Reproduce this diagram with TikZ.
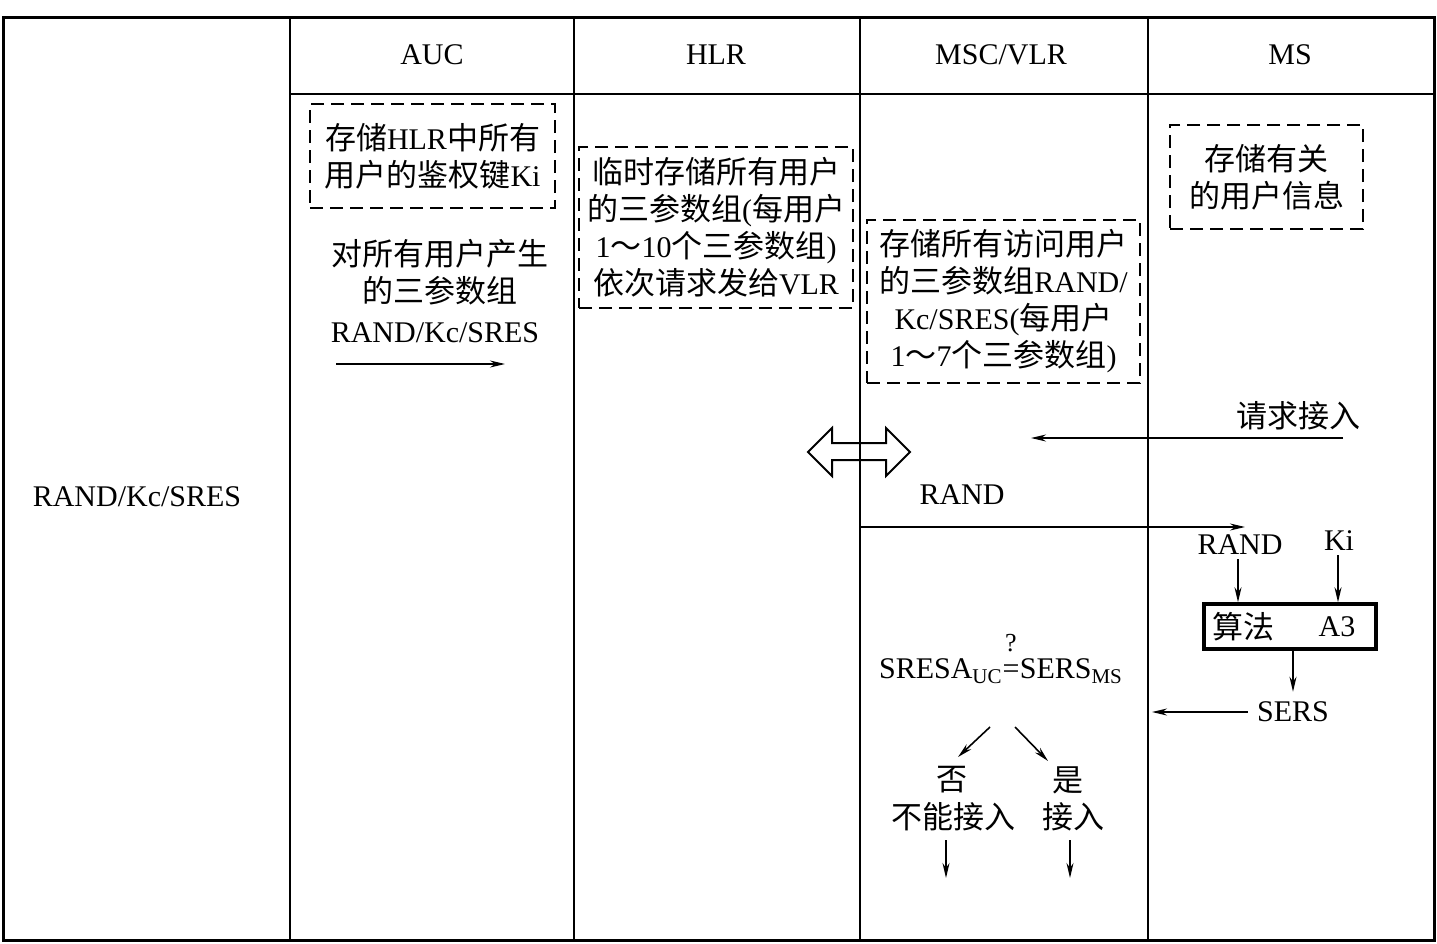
\documentclass[tikz,border=0pt]{standalone}
\usepackage{fontspec}
\setmainfont{Liberation Serif}
\newfontfamily\cj{Noto Sans CJK SC}
\usetikzlibrary{arrows.meta}
\newcommand{\C}[1]{{\cj\fontsize{31}{37}\selectfont #1}}
\begin{document}
\begin{tikzpicture}[x=1pt,y=-1pt,
  every node/.style={font=\fontsize{30}{37}\selectfont, inner sep=0pt},
  frame/.style={line width=3pt},
  col/.style={line width=2.6pt},
  dbox/.style={draw, dash pattern=on 13pt off 7pt, line width=2pt, align=center},
  arr/.style={line width=1.6pt, -{Stealth[length=15pt,width=7pt]}},
  algbox/.style={draw, line width=3.5pt, minimum width=172pt, minimum height=45pt}]
\useasboundingbox (0,0) rectangle (1437,943);
% frame and columns
\draw[frame] (3,17) rectangle (1434,940);
\draw[col] (290,17) -- (290,940);
\draw[col] (574,17) -- (574,940);
\draw[col] (860,17) -- (860,940);
\draw[col] (1148,17) -- (1148,940);
\draw[col] (290,94) -- (1434,94);
% headers
\node (auc) at (432,55) {AUC};
\node (hlr) at (716,55) {HLR};
\node (vlr) at (1001,55) {MSC/VLR};
\node (ms) at (1290,55) {MS};
\node (left) at (137,497) {RAND/Kc/SRES};
% AUC column
\node[dbox, minimum width=245pt, minimum height=104pt] (b1) at (432.5,156)
  {\C{存储}HLR\C{中所有}\\\C{用户的鉴权键}Ki};
\node[align=center] (t1) at (440,272) {\C{对所有用户产生}\\\C{的三参数组}};
\node (t2) at (435,333) {RAND/Kc/SRES};
\coordinate (a1s) at (336,364);
\coordinate (a1e) at (505,364);
\draw[arr] (a1s) -- (a1e);
% HLR column
\node[dbox, minimum width=274pt, minimum height=161pt] (b2) at (716,227.5)
  {\C{临时存储所有用户}\\\C{的三参数组}(\C{每用户}\\1\C{～}10\C{个三参数组})\\\C{依次请求发给}VLR};
% MSC/VLR column
\node[dbox, minimum width=273pt, minimum height=163pt] (b3) at (1003.5,301.5)
  {\C{存储所有访问用户}\\\C{的三参数组}RAND/\\Kc/SRES(\C{每用户}\\1\C{～}7\C{个三参数组})};
% MS column
\node[dbox, minimum width=193pt, minimum height=104pt] (b4) at (1266.5,177)
  {\C{存储有关}\\\C{的用户信息}};
% double arrow
\draw[line width=2pt, line join=miter] (808,452) -- (832,428) -- (832,443) -- (886,443) -- (886,428)
  -- (910,452) -- (886,476) -- (886,460) -- (832,460) -- (832,476) -- cycle;
% request access
\node (req) at (1298,416) {\C{请求接入}};
\coordinate (reqs) at (1343,438);
\coordinate (reqe) at (1031,438);
\draw[arr] (reqs) -- (reqe);
% RAND
\node (rnd) at (962,495) {RAND};
\coordinate (rnds) at (860,527);
\coordinate (rnde) at (1245,527);
\draw[arr] (rnds) -- (rnde);
% algorithm
\node (r2) at (1240,545) {RAND};
\node (ki) at (1339,541) {Ki};
\node[algbox] (alg) at (1290,626.5) {};
\node (algl) at (1243,627) {\C{算法}};
\node (algr) at (1337,627) {A3};
\draw[arr, shorten <=4pt] (r2.south -| 1238,0) -- (alg.north -| 1238,0);
\draw[arr, shorten <=4pt] (ki.south -| 1338,0) -- (alg.north -| 1338,0);
\node (sers) at (1293,712) {SERS};
\draw[arr, shorten >=10pt] (alg.south -| 1293,0) -- (sers.north);
\coordinate (serse) at (1152,712);
\draw[arr, shorten <=9pt] (sers.west) -- (serse);
% comparison
\node[anchor=base] (eq) at (1011,678) {=};
\node[anchor=base east] (fl) at (eq.base west) {SRESA\textsubscript{UC}};
\node[anchor=base west] (fr) at (eq.base east) {SERS\textsubscript{MS}};
\node[font=\fontsize{26}{26}\selectfont, anchor=base] (q) at (1011,651) {?};
\coordinate (f1) at (990,727);
\coordinate (f1e) at (958,757);
\coordinate (f2) at (1015,727);
\coordinate (f2e) at (1048,761);
\draw[arr] (f1) -- (f1e);
\draw[arr] (f2) -- (f2e);
\node (no) at (952,780) {\C{否}};
\node (nocan) at (953,817) {\C{不能接入}};
\node (yes) at (1068,780) {\C{是}};
\node (yesin) at (1073,817) {\C{接入}};
\coordinate (n1) at (946,840);
\coordinate (n1e) at (946,878);
\coordinate (y1) at (1070,840);
\coordinate (y1e) at (1070,878);
\draw[arr] (n1) -- (n1e);
\draw[arr] (y1) -- (y1e);
\end{tikzpicture}
\end{document}
